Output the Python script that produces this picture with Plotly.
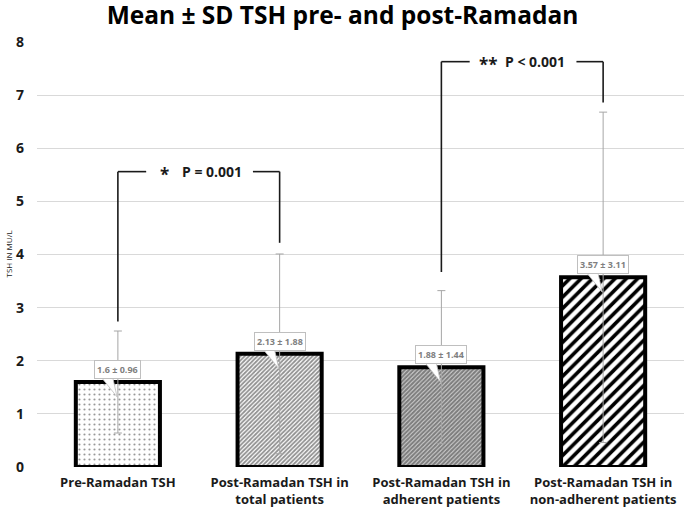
import plotly.graph_objects as go

categories = ["Pre-Ramadan TSH", "Post-Ramadan TSH in<br>total patients",
              "Post-Ramadan TSH in<br>adherent patients", "Post-Ramadan TSH in<br>non-adherent patients"]
means = [1.6, 2.13, 1.88, 3.57]
sds = [0.96, 1.88, 1.44, 3.11]
labels = ["1.6 ± 0.96", "2.13 ± 1.88", "1.88 ± 1.44", "3.57 ± 3.11"]
yticks = [0, 1, 2, 3, 4, 5, 6, 7, 8]

# significance brackets: (left cat, right cat, top y, left bottom y, right bottom y, stars, p text)
brackets = [
    (0, 1, 5.56, 2.74, 4.22, "*", "P = 0.001"),
    (2, 3, 7.63, 3.67, 6.86, "**", "P < 0.001"),
]

FONT = "Open Sans, sans-serif"
xs = list(range(len(categories)))

patterns = [
    dict(shape=".", size=5, solidity=0.15, fgcolor="#333", bgcolor="white"),
    dict(shape="/", size=3, solidity=0.6, fgcolor="#222", bgcolor="white"),
    dict(shape="/", size=3, solidity=0.8, fgcolor="#000", bgcolor="white"),
    dict(shape="/", size=8, solidity=0.45, fgcolor="black", bgcolor="white", fgopacity=1),
]

fig = go.Figure()
for i in xs:
    fig.add_trace(go.Bar(
        x=[xs[i]], y=[means[i]], width=0.52,
        marker=dict(color="white", pattern=patterns[i], line=dict(color="black", width=4)),
        error_y=dict(type="data", array=[sds[i]], visible=True, color="#a6a6a6", thickness=1, width=4),
        showlegend=False, hoverinfo="skip",
    ))

shapes = []
annotations = []
# callout labels
for i in xs:
    v = means[i]
    shapes.append(dict(type="path", xref="x", yref="y", layer="above",
                       path=f"M {i-0.095},{v+0.06} L {i-0.03},{v+0.06} L {i-0.005},{v-0.28} Z",
                       fillcolor="white", line=dict(width=0)))
    shapes.append(dict(type="path", xref="x", yref="y", layer="above",
                       path=f"M {i-0.095},{v+0.06} L {i-0.005},{v-0.28} L {i-0.03},{v+0.06}",
                       line=dict(color="#bfbfbf", width=0.8)))
    annotations.append(dict(x=i, y=v, xref="x", yref="y", text=f"<b>{labels[i]}</b>",
                            showarrow=False, yanchor="bottom", yshift=3,
                            font=dict(family=FONT, size=9, color="#7f7f7f"),
                            bgcolor="white", bordercolor="#bfbfbf", borderwidth=1, borderpad=2))

for (a, b, top, lb, rb, stars, ptxt) in brackets:
    line = dict(color="#1a1a1a", width=1.6)
    shapes += [
        dict(type="line", xref="x", yref="y", x0=a, x1=a, y0=lb, y1=top, line=line),
        dict(type="line", xref="x", yref="y", x0=a, x1=a + 0.175, y0=top, y1=top, line=line),
        dict(type="line", xref="x", yref="y", x0=b - 0.165, x1=b, y0=top, y1=top, line=line),
        dict(type="line", xref="x", yref="y", x0=b, x1=b, y0=top, y1=rb, line=line),
    ]
    annotations.append(dict(x=a + 0.29, y=top, xref="x", yref="y", text=f"<b>{stars}</b>",
                            showarrow=False, yshift=-3,
                            font=dict(family=FONT, size=17, color="#1a1a1a")))
    annotations.append(dict(x=a + 0.58, y=top, xref="x", yref="y", text=f"<b>{ptxt}</b>",
                            showarrow=False,
                            font=dict(family=FONT, size=14, color="#1a1a1a")))

# y-axis title as annotation
annotations.append(dict(x=0, y=0.5, xref="paper", yref="paper", text="TSH IN MU/L",
                        textangle=-90, showarrow=False, xanchor="center", yanchor="middle",
                        xshift=-29, font=dict(family=FONT, size=8, color="#1a1a1a")))

fig.update_layout(
    width=685, height=515,
    margin=dict(l=37, r=1, t=42, b=48),
    plot_bgcolor="white", paper_bgcolor="white",
    title=dict(text="<b>Mean ± SD TSH pre- and post-Ramadan</b>", x=0.5, xanchor="center",
               y=1 - 15 / 515, yanchor="middle", yref="container",
               font=dict(family=FONT, size=24.5, color="black")),
    xaxis=dict(tickmode="array", tickvals=xs, ticktext=[f"<b>{c}</b>" for c in categories],
               range=[-0.5, 3.5], showgrid=False, zeroline=False, showline=False,
               ticks="", ticklabelstandoff=6, automargin=False,
               tickfont=dict(family=FONT, size=13, color="#1a1a1a")),
    yaxis=dict(range=[0, 8], tickvals=yticks, ticktext=[f"<b>{t}</b>" for t in yticks],
               showgrid=True, gridcolor="#d9d9d9", gridwidth=1, zeroline=False, showline=False,
               ticks="", ticklabelstandoff=12, automargin=False,
               tickfont=dict(family=FONT, size=14, color="#1a1a1a")),
    shapes=shapes, annotations=annotations,
    bargap=0.48,
)

fig.write_html("out.html", config={"displayModeBar": False},
               post_script="document.body.style.margin='0';")
